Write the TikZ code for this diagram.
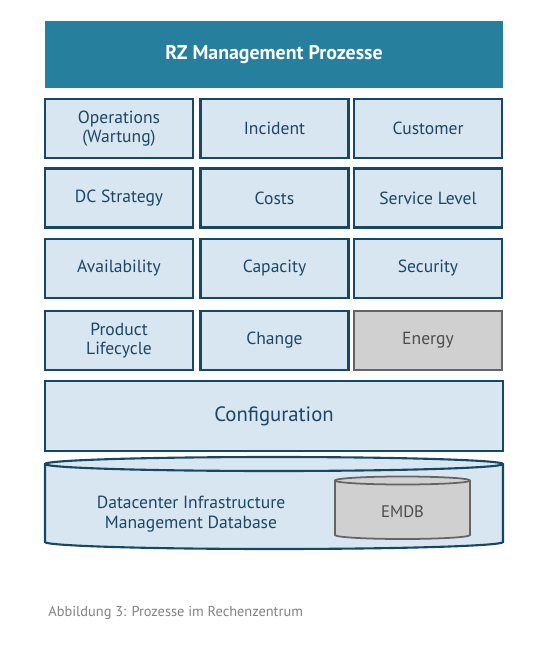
\documentclass[tikz,border=0pt]{standalone}
\usepackage{fontspec}
\setmainfont{PT Sans}
\usetikzlibrary{calc}
\definecolor{headteal}{RGB}{38,127,157}
\definecolor{boxblue}{RGB}{215,230,240}
\definecolor{boxline}{RGB}{22,72,100}
\definecolor{boxtext}{RGB}{30,70,100}
\definecolor{emdbgray}{RGB}{208,208,208}
\definecolor{emdbline}{RGB}{100,100,100}
\definecolor{captiongray}{RGB}{130,130,130}

\begin{document}
\begin{tikzpicture}[x=0.02cm,y=-0.02cm,
  procbox/.style={draw=boxline,line width=1.2pt,fill=boxblue,text=boxtext,
    minimum width=148*0.02cm,minimum height=59*0.02cm,inner sep=0pt,
    align=center,font=\fontsize{10}{10.5}\selectfont},
  graybox/.style={procbox,draw=emdbline,fill=emdbgray,text=black!70}]

\useasboundingbox (0,0) rectangle (540,651);

% ===== HEADER =====
\node[fill=headteal,text=white,minimum width=458*0.02cm,minimum height=67*0.02cm,
  inner sep=0pt,font=\fontsize{11.3}{12}\selectfont\bfseries] (head) at (274,54.5) {RZ Management Prozesse};

% ===== PROCESS GRID =====
\node[procbox] (oper) at (119,128.5) {Operations\\(Wartung)};
\node[procbox] (incid) at (274.5,128.5) {Incident};
\node[procbox] (cust) at (428,128.5) {Customer};

\node[procbox] (strat) at (119,198) {DC Strategy};
\node[procbox] (costs) at (274.5,198) {Costs};
\node[procbox] (slevel) at (428,198) {Service Level};

\node[procbox] (avail) at (119,268.5) {Availability};
\node[procbox] (capac) at (274.5,268.5) {Capacity};
\node[procbox] (secur) at (428,268.5) {Security};

\node[procbox] (plc) at (119,340.5) {Product\\Lifecycle};
\node[procbox] (change) at (274.5,340.5) {Change};
\node[graybox] (energy) at (428,340.5) {Energy};

% ===== CONFIGURATION =====
\node[procbox,minimum width=458*0.02cm,minimum height=70*0.02cm,
  font=\fontsize{11.8}{12}\selectfont] (config) at (274,416) {Configuration};

% ===== DATABASE CYLINDER =====
\filldraw[draw=boxline,line width=1.2pt,fill=boxblue]
  (45,464) -- (45,542) arc[start angle=180,end angle=0,x radius=229,y radius=7]
  -- (503,464) arc[start angle=0,end angle=-180,x radius=229,y radius=7] -- cycle;
\draw[boxline,line width=1.2pt] (45,464) arc[start angle=180,end angle=0,x radius=229,y radius=7];
\node[text=boxtext,align=center,font=\fontsize{10}{11}\selectfont] (dcim) at (191,514)
  {Datacenter Infrastructure\\Management Database};

% EMDB
\filldraw[draw=emdbline,line width=1pt,fill=emdbgray]
  (335,480.5) -- (335,535) arc[start angle=180,end angle=0,x radius=67.5,y radius=4]
  -- (470,480.5) arc[start angle=0,end angle=-180,x radius=67.5,y radius=4] -- cycle;
\draw[emdbline,line width=1pt] (335,480.5) arc[start angle=180,end angle=0,x radius=67.5,y radius=4];
\node[text=black!70,font=\fontsize{9.5}{10}\selectfont] (emdb) at (402.5,512) {EMDB};

% caption
\node[anchor=west,text=captiongray,inner sep=0pt,font=\fontsize{8.2}{9}\selectfont] (capt) at (48,613)
  {Abbildung 3: Prozesse im Rechenzentrum};

\end{tikzpicture}
\end{document}
